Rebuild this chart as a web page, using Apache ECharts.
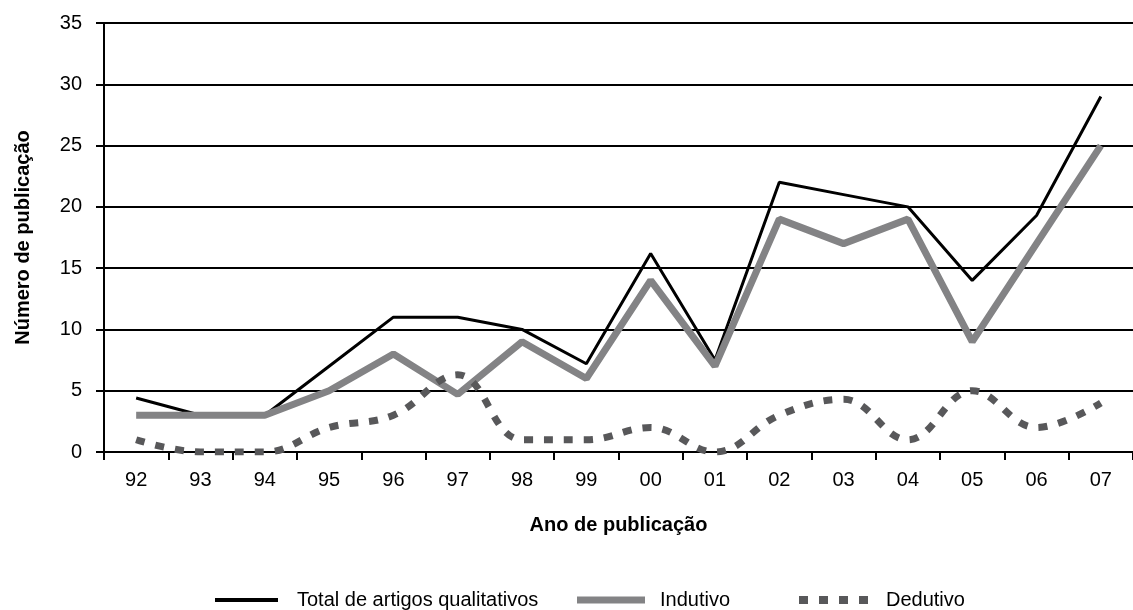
<!DOCTYPE html>
<html>
<head>
<meta charset="utf-8">
<script src="https://cdn.jsdelivr.net/npm/echarts@6/dist/echarts.min.js"></script>
<style>
html,body{margin:0;padding:0;background:#fff;}
#chart{width:1133px;height:610px;}
</style>
</head>
<body>
<div id="chart"></div>
<script>
var years = ['92','93','94','95','96','97','98','99','00','01','02','03','04','05','06','07'];
var total = [4.4, 3, 3, 7, 11, 11, 10, 7.2, 16.2, 7.5, 22, 21, 20, 14, 19.3, 29];
var indutivo = [3, 3, 3, 5, 8, 4.7, 9, 6, 14, 7, 19, 17, 19, 9, 17, 25];
var dedutivo = [1, 0, 0, 2, 3, 6.3, 1, 1, 2, 0, 3, 4.3, 1, 5, 2, 4];
var yTicks = [0, 5, 10, 15, 20, 25, 30, 35];

var FONT = '"Liberation Sans",Arial,Helvetica,sans-serif';
var chart = echarts.init(document.getElementById('chart'), null, {renderer: 'canvas'});

function legend(name, left, icon, w, h, gap) {
  return {
    data: [{name: name, icon: icon}], left: left, top: 590, padding: 0, orient: 'horizontal',
    itemWidth: w, itemHeight: h,
    textStyle: {fontFamily: FONT, fontSize: 20, lineHeight: 20, color: '#000', padding: [0, 0, 0, gap]},
    selectedMode: false
  };
}

chart.setOption({
  animation: false,
  backgroundColor: '#fff',
  grid: {left: 104, top: 23, width: 1039, height: 429, containLabel: false},
  legend: [
    legend('Total de artigos qualitativos', 215, 'rect', 63, 4, 14),
    legend('Indutivo', 577, 'rect', 68, 7, 10),
    legend('Dedutivo', 799, 'path://M0,0h9v8h-9z M20,0h9v8h-9z M40,0h9v8h-9z M60,0h9v8h-9z', 69, 8, 13)
  ],
  xAxis: {
    type: 'category', data: years, boundaryGap: true,
    name: 'Ano de publicação', nameLocation: 'middle', nameGap: 63,
    nameTextStyle: {fontFamily: FONT, fontSize: 20, fontWeight: 'bold', color: '#000'},
    axisLine: {lineStyle: {color: '#000', width: 2}},
    axisTick: {show: true, length: 8, lineStyle: {color: '#000', width: 2}},
    axisLabel: {fontFamily: FONT, fontSize: 20, color: '#000', margin: 18}
  },
  yAxis: {
    type: 'value', min: yTicks[0], max: yTicks[yTicks.length - 1], interval: 5,
    name: 'Número de publicação', nameLocation: 'middle', nameGap: 71,
    nameTextStyle: {fontFamily: FONT, fontSize: 20, fontWeight: 'bold', color: '#000'},
    axisLine: {show: true, lineStyle: {color: '#000', width: 2}},
    axisTick: {show: true, length: 8, lineStyle: {color: '#000', width: 2}},
    axisLabel: {fontFamily: FONT, fontSize: 20, color: '#000', margin: 22},
    splitLine: {show: true, lineStyle: {color: '#000', width: 2}}
  },
  series: [
    {name: 'Total de artigos qualitativos', type: 'line', data: total, symbol: 'none',
     itemStyle: {color: '#000'}, lineStyle: {color: '#000', width: 3}, z: 2},
    {name: 'Indutivo', type: 'line', data: indutivo, symbol: 'none',
     itemStyle: {color: '#838385'}, lineStyle: {color: '#838385', width: 7}, z: 3},
    {name: 'Dedutivo', type: 'line', data: dedutivo, symbol: 'none', smooth: 0.4,
     itemStyle: {color: '#58585a'}, lineStyle: {color: '#58585a', width: 7, type: [9, 11], cap: 'butt'}, z: 4}
  ]
});
</script>
</body>
</html>
